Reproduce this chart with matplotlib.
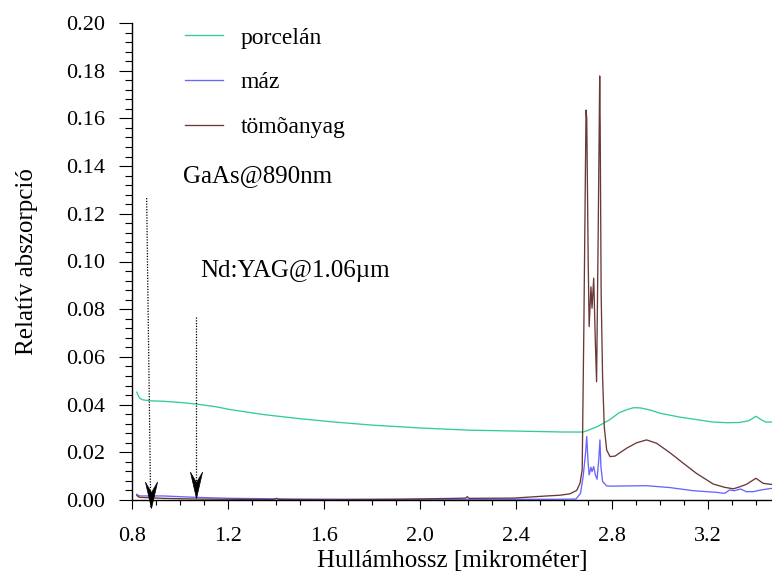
import matplotlib
matplotlib.use("Agg")
import matplotlib.pyplot as plt
from matplotlib.ticker import MultipleLocator, FormatStrFormatter
from matplotlib.path import Path

plt.rcParams['font.family'] = ['Liberation Serif', 'DejaVu Serif']

# ---------------- data ----------------
x_porcelan = [0.820, 0.825, 0.833, 0.845, 0.875, 0.93, 1.00, 1.07, 1.15, 1.21,
              1.35, 1.49, 1.63, 1.80, 2.00, 2.20, 2.40, 2.60, 2.68, 2.70,
              2.74, 2.79, 2.83, 2.86, 2.89, 2.92, 2.96, 3.00, 3.08, 3.14,
              3.22, 3.28, 3.33, 3.37, 3.40, 3.42, 3.44, 3.467]
y_porcelan = [0.0452, 0.0440, 0.0426, 0.0420, 0.0416, 0.0414, 0.0409, 0.0402, 0.0391, 0.0379,
              0.0358, 0.0342, 0.0328, 0.0314, 0.0302, 0.0293, 0.0289, 0.0285, 0.0285, 0.0292,
              0.0308, 0.0336, 0.0366, 0.0378, 0.0387, 0.0386, 0.0377, 0.0364, 0.0348, 0.0339,
              0.0327, 0.0324, 0.0325, 0.0332, 0.0351, 0.0338, 0.0327, 0.0327]

x_maz = [0.820, 0.825, 0.833, 0.93, 1.07, 1.21, 1.49, 1.80, 2.20, 2.58,
         2.65, 2.669, 2.680, 2.690, 2.695, 2.700, 2.705, 2.7125, 2.717, 2.724,
         2.731, 2.738, 2.745, 2.750, 2.754, 2.761, 2.778, 2.80, 2.861, 2.944,
         3.042, 3.139, 3.236, 3.27, 3.29, 3.31, 3.336, 3.36, 3.39, 3.42, 3.467]
y_maz = [0.0024, 0.0020, 0.0017, 0.0017, 0.0011, 0.0007, 0.0004, 0.0003, 0.0003, 0.0003,
         0.0004, 0.0028, 0.0098, 0.0196, 0.0266, 0.0168, 0.0105, 0.0137, 0.0119, 0.0140,
         0.0105, 0.0087, 0.0168, 0.0252, 0.0140, 0.0078, 0.0059, 0.0058, 0.0059, 0.0060,
         0.0052, 0.0039, 0.0032, 0.0028, 0.0042, 0.0039, 0.0046, 0.0035, 0.0035, 0.0042, 0.0049]

x_tomo = [0.820, 0.825, 0.833, 0.93, 1.07, 1.39, 1.403, 1.415, 1.625, 1.903,
          2.153, 2.190, 2.197, 2.205, 2.39, 2.53, 2.583, 2.625, 2.653, 2.667,
          2.676, 2.683, 2.692, 2.695, 2.701, 2.705, 2.7125, 2.717, 2.724, 2.731,
          2.736, 2.743, 2.749, 2.751, 2.755, 2.761, 2.768, 2.778, 2.792, 2.8125,
          2.861, 2.903, 2.944, 2.986, 3.042, 3.10, 3.153, 3.222, 3.27, 3.306,
          3.326, 3.361, 3.40, 3.43, 3.467]
y_tomo = [0.0020, 0.0014, 0.0011, 0.0007, 0.0004, 0.0002, 0.0007, 0.0002, 0.0001, 0.0003,
          0.0007, 0.0008, 0.0014, 0.0007, 0.0008, 0.0017, 0.0020, 0.0026, 0.0040, 0.0070,
          0.0126, 0.0727, 0.1635, 0.1600, 0.1006, 0.0727, 0.0894, 0.0804, 0.0930, 0.0657,
          0.0496, 0.1146, 0.1778, 0.1565, 0.0867, 0.0517, 0.0307, 0.0210, 0.0182, 0.0184,
          0.0217, 0.0240, 0.0252, 0.0238, 0.0198, 0.0152, 0.0111, 0.0067, 0.0053, 0.0047,
          0.0053, 0.0066, 0.0091, 0.0070, 0.0065]

series_labels = ['porcelán', 'máz', 'tömõanyag']
series_colors = ['#33cc99', '#6666ff', '#6b3838']

x_ticks_major = [0.8, 1.2, 1.6, 2.0, 2.4, 2.8, 3.2]
y_ticks_major = [0.00, 0.02, 0.04, 0.06, 0.08, 0.10, 0.12, 0.14, 0.16, 0.18, 0.20]

# annotation arrows: (x_top, y_top, x_tip, y_tip)
arrow_gaas = (0.861, 0.1266, 0.878, -0.0034)
arrow_ndyag = (1.065, 0.0766, 1.065, 0.0008)
text_gaas = ('GaAs@890nm', 1.0125, 0.1333)
text_ndyag = ('Nd:YAG@1.06µm', 1.083, 0.0935)

# ---------------- figure ----------------
W, H = 772, 578
fig = plt.figure(figsize=(W / 100, H / 100), dpi=100)
ax = fig.add_axes([132 / W, (H - 500) / H, (W - 132) / W, 477 / H])

lines = []
for xs, ys, lab, col in zip([x_porcelan, x_maz, x_tomo], [y_porcelan, y_maz, y_tomo],
                            series_labels, series_colors):
    ln, = ax.plot(xs, ys, color=col, lw=0.95, label=lab, clip_on=False)
    lines.append(ln)

ax.set_xlim(0.8, 3.467)
ax.set_ylim(0.0, 0.2)

for s in ['top', 'right']:
    ax.spines[s].set_visible(False)
for s in ['left', 'bottom']:
    ax.spines[s].set_linewidth(1.0)

ax.set_xticks(x_ticks_major)
ax.set_yticks(y_ticks_major)
ax.xaxis.set_minor_locator(MultipleLocator(0.1))
ax.yaxis.set_minor_locator(MultipleLocator(0.004))
ax.xaxis.set_major_formatter(FormatStrFormatter('%.1f'))
ax.yaxis.set_major_formatter(FormatStrFormatter('%.2f'))
ax.tick_params(axis='y', which='major', direction='out', length=9.5, width=0.8, pad=10, labelsize=16)
ax.tick_params(axis='y', which='minor', direction='out', length=4.8, width=0.8)
ax.tick_params(axis='x', which='major', direction='out', length=6.5, width=0.8, pad=13, labelsize=16)
ax.tick_params(axis='x', which='minor', direction='out', length=3.8, width=0.8)

ax.set_xlabel('Hullámhossz [mikrométer]', fontsize=18, labelpad=3)
ax.set_ylabel('Relatív abszorpció', fontsize=18, labelpad=20)

# annotations
head = Path([(0, 0), (-0.23, 1.0), (0, 0.6), (0.23, 1.0), (0, 0)],
            [Path.MOVETO, Path.LINETO, Path.LINETO, Path.LINETO, Path.CLOSEPOLY])
for (x0, y0, x1, y1) in [arrow_gaas, arrow_ndyag]:
    ax.plot([x0, x1], [y0, y1], color='black', lw=0.9, ls=(0, (1, 1.2)), clip_on=False)
    ax.plot([x1], [y1], marker=head, markersize=38, color='black', mec='black',
            mew=0.5, clip_on=False, zorder=5)

for (t, x, y) in [text_gaas, text_ndyag]:
    ax.text(x, y, t, fontsize=18, ha='left', va='baseline')

leg = ax.legend(handles=lines, loc='upper left', bbox_to_anchor=(185 / W, 1 - 27 / H),
                bbox_transform=fig.transFigure, frameon=False, fontsize=17,
                handlelength=1.6, handletextpad=0.75, labelspacing=0.98,
                borderpad=0, borderaxespad=0)

fig.savefig('out.png', dpi=100)
